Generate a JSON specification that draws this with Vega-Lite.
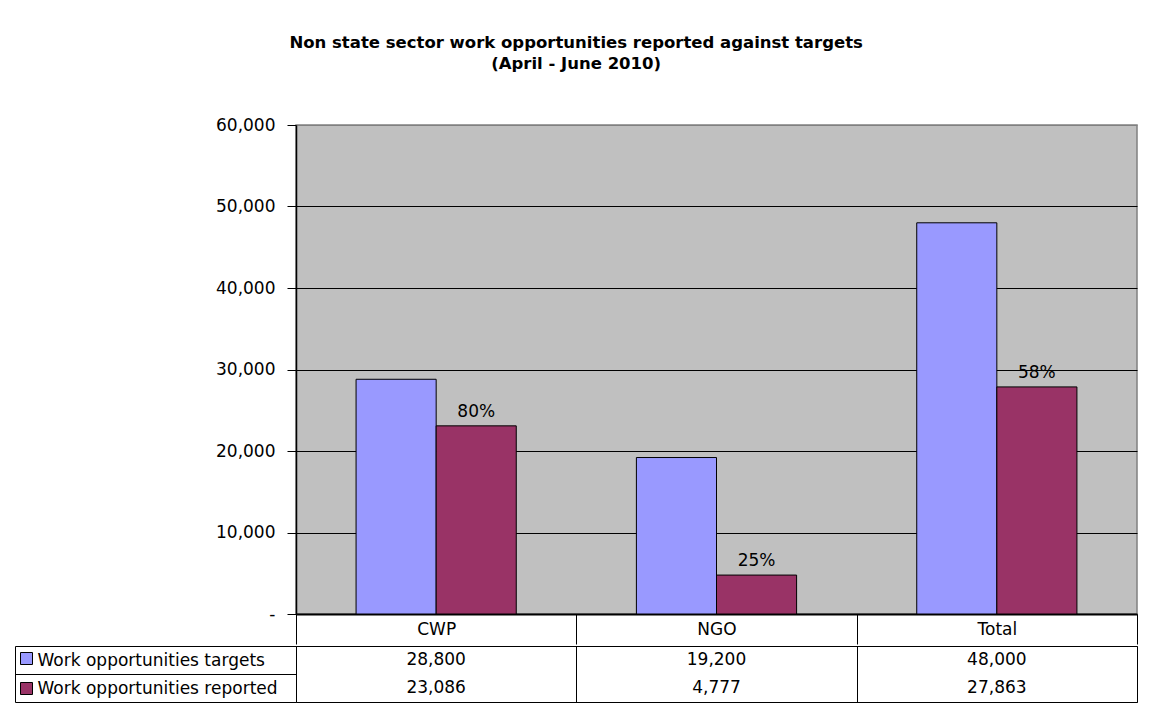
{
  "$schema": "https://vega.github.io/schema/vega-lite/v6.json",
  "padding": {"left": 14, "top": 34, "right": 15, "bottom": 16},
  "background": "white",
  "config": {"font": "DejaVu Sans"},
  "title": {
    "text": ["Non state sector work opportunities reported against targets", "(April - June 2010)"],
    "font": "DejaVu Sans", "fontSize": 16.5, "fontWeight": "bold", "color": "black",
    "anchor": "middle", "lineHeight": 21, "offset": 43
  },
  "data": {"values": [
    {"category": "CWP", "series": "Work opportunities targets", "value": 28800},
    {"category": "CWP", "series": "Work opportunities reported", "value": 23086, "pct": "80%"},
    {"category": "NGO", "series": "Work opportunities targets", "value": 19200},
    {"category": "NGO", "series": "Work opportunities reported", "value": 4777, "pct": "25%"},
    {"category": "Total", "series": "Work opportunities targets", "value": 48000},
    {"category": "Total", "series": "Work opportunities reported", "value": 27863, "pct": "58%"}
  ]},
  "spacing": -13,
  "vconcat": [
    {
      "width": 841,
      "height": 489,
      "view": {"fill": "#C0C0C0", "stroke": "#808080", "strokeWidth": 1.5},
      "encoding": {
        "x": {
          "field": "category", "type": "nominal", "sort": ["CWP", "NGO", "Total"],
          "scale": {"paddingInner": 0, "paddingOuter": 0},
          "axis": {
            "title": null, "labelAngle": 0, "tickBand": "extent", "tickSize": 30, "tickColor": "black",
            "labelPadding": -15, "labelBaseline": "middle", "labelFontSize": 17, "labelColor": "black",
            "domainColor": "black", "domainWidth": 2, "grid": false
          }
        },
        "xOffset": {
          "field": "series", "type": "nominal",
          "scale": {"domain": ["Work opportunities targets", "Work opportunities reported"], "paddingInner": 0, "paddingOuter": 0.75}
        },
        "y": {
          "field": "value", "type": "quantitative",
          "scale": {"domain": [0, 60000], "nice": false},
          "axis": {
            "title": null, "values": [0, 10000, 20000, 30000, 40000, 50000, 60000],
            "labelExpr": "datum.value == 0 ? '-\u00a0\u00a0\u00a0\u00a0\u00a0' : format(datum.value, ',')",
            "labelFontSize": 17, "labelColor": "black", "labelPadding": 12,
            "tickSize": 9, "tickColor": "black", "domainColor": "black", "domainWidth": 1.5,
            "grid": true, "gridOpacity": 1, "gridWidth": 1,
            "gridColor": {"condition": {"test": "datum.value == 60000", "value": "#808080"}, "value": "black"}
          }
        }
      },
      "layer": [
        {
          "mark": {"type": "bar", "stroke": "black", "strokeWidth": 1},
          "encoding": {
            "fill": {
              "field": "series", "type": "nominal",
              "scale": {"domain": ["Work opportunities targets", "Work opportunities reported"], "range": ["#9999FF", "#993366"]},
              "legend": {
                "orient": "none", "legendX": -276, "legendY": 527, "title": null,
                "symbolType": "square", "symbolSize": 144, "symbolStrokeColor": "black", "symbolStrokeWidth": 1,
                "symbolOpacity": 1, "labelExpr": "''", "labelFontSize": 1, "rowPadding": 13, "padding": 0, "symbolOffset": 0
              }
            }
          }
        },
        {
          "transform": [{"filter": "isValid(datum.pct)"}],
          "mark": {"type": "text", "baseline": "bottom", "dy": -5, "fontSize": 17, "color": "black"},
          "encoding": {"text": {"field": "pct"}}
        }
      ]
    },
    {
      "width": 841,
      "height": 56,
      "view": {"fill": "white", "stroke": "black", "strokeWidth": 1},
      "mark": {"type": "text", "fontSize": 17, "color": "black"},
      "encoding": {
        "x": {
          "field": "category", "type": "nominal", "sort": ["CWP", "NGO", "Total"],
          "scale": {"paddingInner": 0, "paddingOuter": 0},
          "axis": {
            "title": null, "grid": true, "tickBand": "extent", "gridColor": "black", "gridOpacity": 1, "gridWidth": 1,
            "labels": false, "ticks": false, "domain": false
          }
        },
        "y": {
          "field": "series", "type": "nominal",
          "sort": ["Work opportunities targets", "Work opportunities reported"],
          "scale": {"paddingInner": 0, "paddingOuter": 0},
          "axis": {
            "title": null, "offset": 281, "tickBand": "extent", "tickSize": -281, "tickColor": "black",
            "domainColor": "black", "labelAlign": "left", "labelPadding": 259, "labelBaseline": "middle",
            "labelFontSize": 17, "labelColor": "black", "labelLimit": 400, "grid": false
          }
        },
        "text": {"field": "value", "type": "quantitative", "format": ","}
      }
    }
  ]
}
